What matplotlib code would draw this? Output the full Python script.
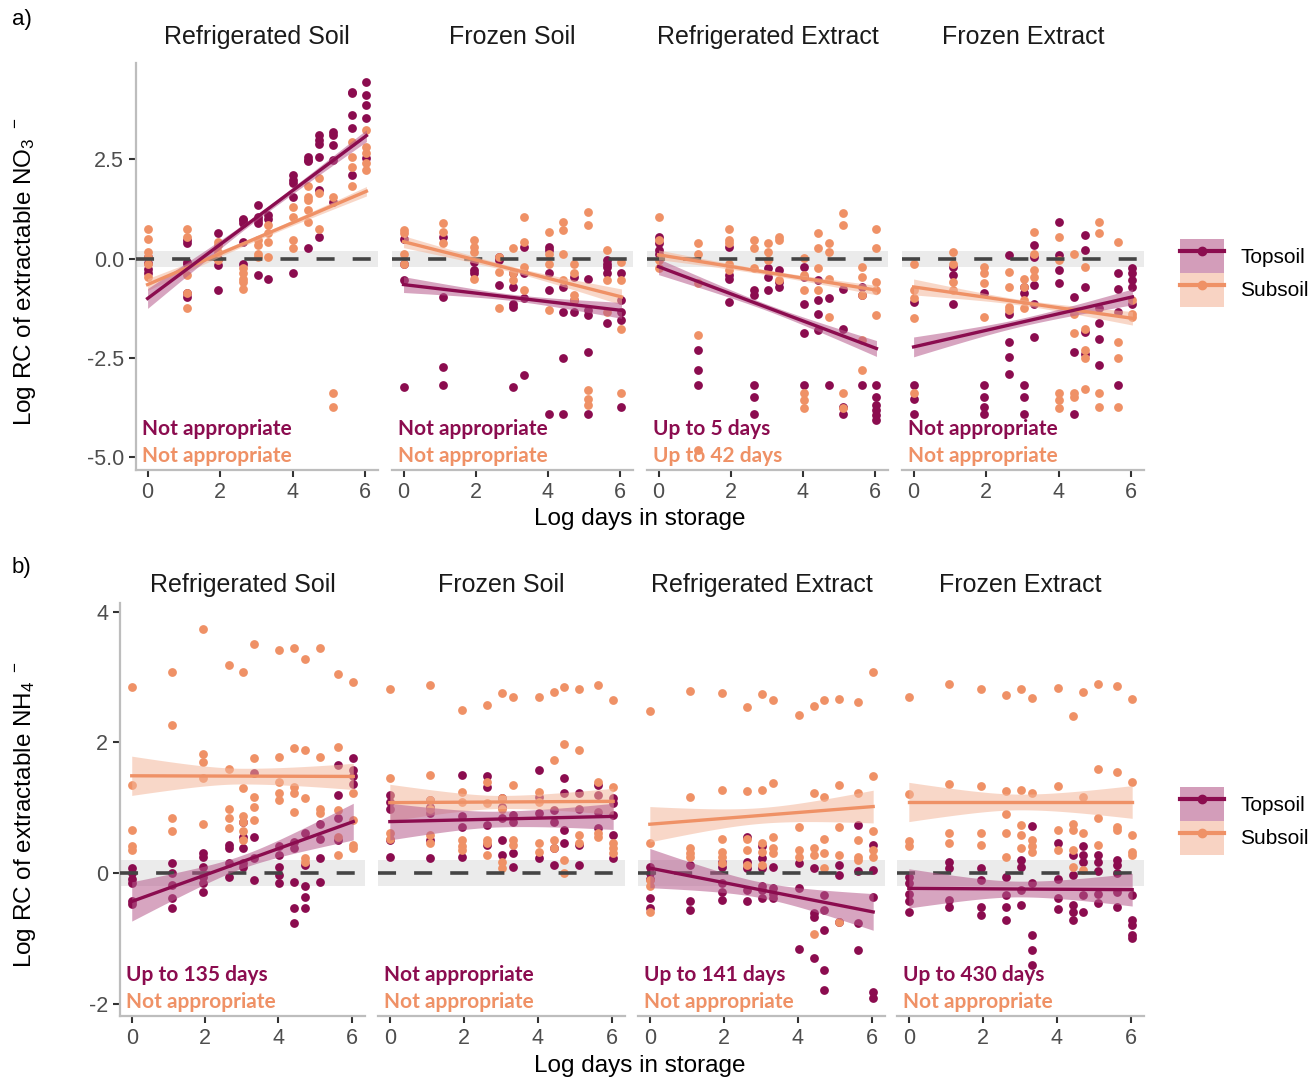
import matplotlib
matplotlib.use('Agg')
import matplotlib.pyplot as plt
import numpy as np
from matplotlib.patches import Patch
from matplotlib.lines import Line2D
from matplotlib.legend_handler import HandlerTuple

plt.rcParams['font.family'] = ['Liberation Sans', 'DejaVu Sans']
plt.rcParams['mathtext.default'] = 'regular'

# storage times (days); plotted on log scale
days = [1, 3, 7, 14, 21, 28, 56, 84, 112, 168, 280, 420]
panels = ['Refrigerated Soil', 'Frozen Soil', 'Refrigerated Extract', 'Frozen Extract']

# ---------------- a) nitrate ----------------
no3_top = [
    # Refrigerated Soil
    [[0.05, -0.1, -0.25, -0.35], [0.47, 0.4, -0.08, -0.12, -0.87, -0.96], [0.64, -0.79, -0.16, 0.0],
     [1.0, 0.97, 0.89, 0.43, -0.13], [1.35, 1.06, 0.97, 0.89, -0.41], [1.1, 1.0, -0.5],
     [2.1, 1.98, 1.9, 1.56, -0.37], [2.57, 2.49, 2.45, 0.26], [3.12, 3.0, 2.9, 2.57, 1.73, 0.55],
     [3.2, 3.12, 2.87, 2.49, 1.44], [4.2, 4.17, 3.62, 3.29, 2.1], [4.46, 4.13, 3.87, 3.54, 2.53]],
    # Frozen Soil
    [[0.51, -0.12, -0.54, -3.23], [0.55, -0.96, -2.72, -3.18], [-0.08, -0.29, -0.37],
     [0.05, -0.03, -0.66], [-0.37, -0.71, -1.13, -1.21, -3.23], [0.3, -0.37, -1.0, -2.93],
     [0.3, 0.22, -0.37, -0.79, -3.9], [-0.71, -1.34, -2.51, -3.9], [-0.45, -1.04, -1.34],
     [-0.5, -1.29, -1.42, -2.34, -3.9], [-0.03, -0.12, -0.2, -0.37, -1.63], [-0.37, -1.04, -1.34, -1.55, -3.73]],
    # Refrigerated Extract
    [[0.55, 0.39, 0.22, 0.13], [-2.3, -2.81, -3.18], [0.3, -0.41, -0.5, -1.08],
     [-0.79, -0.92, -3.18, -3.48, -3.9], [-0.24, -0.45, -0.79], [-0.29, -0.58, -0.71],
     [-0.2, -0.45, -1.13, -1.88, -3.18], [-0.54, -1.04, -1.38, -1.8], [-1.0, -3.18],
     [-0.75, -1.76, -3.9, -3.73], [-0.71, -0.92, -3.18], [-3.18, -3.48, -3.69, -3.82, -3.94, -4.07]],
    # Frozen Extract
    [[-1.08, -3.18, -3.52, -3.9], [-0.2, -0.41, -1.13], [-0.87, -3.18, -3.48, -3.73, -3.9],
     [0.09, -1.38, -2.09, -2.47, -2.89], [-0.71, -0.87, -3.18, -3.48, -3.9], [0.34, 0.05, -0.66, -1.13, -1.97],
     [0.93, 0.09, -0.29, -0.62], [-0.96, -2.34, -3.9], [0.6, 0.22, -0.71, -1.84, -2.39],
     [-1.25, -1.63, -2.01, -2.68], [-0.37, -0.75, -1.34, -3.18], [-0.24, -0.37, -0.54, -0.71, -1.13]],
]
no3_sub = [
    [[0.76, 0.51, 0.18, 0.05, -0.12, -0.45], [0.76, 0.55, -0.41, -0.87, -1.25], [0.43, 0.34, 0.18, -0.03],
     [-0.24, -0.37, -0.5, -0.58, -0.75], [0.47, 0.34, 0.13, 0.05], [0.85, 0.64, 0.43, 0.05],
     [1.31, 1.06, 0.47, 0.26], [1.82, 1.56, 1.48, 1.23, 0.93], [2.03, 1.65, 0.76],
     [1.56, -3.39, -3.73], [2.95, 2.57, 2.32, 1.82], [3.24, 2.82, 2.66, 2.4, 2.24]],
    [[0.72, 0.64, 0.13, -0.12], [0.89, 0.68, 0.39], [0.47, 0.3, 0.18, -0.5],
     [0.05, -0.33, -1.25], [0.26, -0.37, -0.54], [1.06, 0.43, -0.2, -0.79],
     [0.68, 0.13, -0.12, -1.29], [0.93, 0.72, 0.13, -0.54], [-0.12, -0.37, -0.92, -1.04],
     [1.18, 0.85, -3.31, -3.52, -3.69], [0.22, -0.54, -1.34], [-0.08, -0.54, -1.76, -3.39]],
    [[1.06, 0.47, -0.03, -0.24], [0.39, 0.13, -0.62, -1.92, -4.82], [0.76, 0.47, 0.39, -0.12, -0.29],
     [0.47, 0.26, -0.24], [0.39, 0.18, -0.03], [0.55, 0.47, -0.54],
     [0.01, -0.41, -0.79, -3.39, -3.56, -3.77], [0.64, 0.26, -0.24, -0.79], [0.39, 0.18, -0.5, -1.46],
     [1.14, 0.85, -3.39, -3.77], [-0.2, -0.45, -0.92, -2.05, -2.81], [0.76, 0.26, -0.58, -0.79, -1.42]],
    [[-0.12, -0.79, -1.0, -1.5, -3.39], [0.18, -0.12, -0.58, -0.79], [-0.2, -0.37, -0.62, -1.46],
     [-0.33, -0.71, -1.21, -1.29], [-0.5, -0.71, -1.04, -1.25], [0.68, 0.13, -0.29, -0.45],
     [0.55, -0.03, -3.39, -3.56, -3.77], [0.13, -1.38, -1.88, -3.39, -3.48], [-0.2, -1.76, -2.3, -2.51, -3.27],
     [0.93, 0.64, -3.39, -3.73], [0.43, -2.09, -2.51, -3.73], [-1.04, -1.38, -1.46]],
]
# fitted line: value at day 1 and day 420, CI half width at start / middle / end
no3_fit_top = [(-1.0, 3.1), (-0.65, -1.3), (-0.2, -2.26), (-2.22, -0.96)]
no3_fit_sub = [(-0.65, 1.7), (0.43, -0.96), (0.1, -0.79), (-0.71, -1.5)]
no3_ci_top = [(0.25, 0.07, 0.15), (0.2, 0.08, 0.2), (0.2, 0.08, 0.2), (0.25, 0.1, 0.2)]
no3_ci_sub = [(0.15, 0.06, 0.12), (0.15, 0.07, 0.2), (0.12, 0.06, 0.12), (0.2, 0.07, 0.17)]
no3_note_top = ['Not appropriate', 'Not appropriate', 'Up to 5 days', 'Not appropriate']
no3_note_sub = ['Not appropriate', 'Not appropriate', 'Up to 42 days', 'Not appropriate']

# ---------------- b) ammonium ----------------
nh4_top = [
    [[0.08, 0.0, -0.08, -0.15, -0.43, -0.47], [0.15, 0.0, -0.18, -0.38, -0.53], [0.31, 0.25, 0.1, -0.05, -0.15, -0.28],
     [0.43, 0.38, 0.15, -0.05], [0.79, 0.56, 0.38, 0.15, 0.1], [1.53, 0.56, 0.23, -0.1],
     [0.41, 0.28, 0.1, -0.03, -0.15], [0.48, 0.38, -0.13, -0.53, -0.76], [0.61, 0.13, -0.2, -0.36, -0.53],
     [0.76, 0.53, 0.23, -0.13], [1.65, 1.2, 0.84, 0.51], [1.76, 1.58, 1.48, 1.37]],
    [[1.2, 1.09, 0.99, 0.51, 0.25], [1.12, 1.02, 0.92, 0.51, 0.23], [1.5, 0.87, 0.71, 0.25],
     [1.48, 1.32, 0.74, 0.43], [1.15, 1.02, 0.84, 0.51, 0.28], [0.89, 0.79, 0.31, 0.1],
     [1.58, 1.17, 0.92, 0.23], [0.97, 0.79, 0.38, 0.13], [1.45, 1.22, 0.66, 0.46],
     [1.22, 0.99, 0.43, 0.13], [1.35, 1.2, 0.94, 0.69], [1.15, 1.07, 0.89, 0.59, 0.23]],
    [[0.1, 0.0, -0.08, -0.38, -0.53], [0.13, -0.43, -0.56], [0.18, 0.1, -0.15, -0.28, -0.41],
     [0.56, 0.18, 0.08, -0.25, -0.43], [0.41, 0.23, 0.08, -0.2, -0.25, -0.38], [0.1, -0.23, -0.31, -0.38],
     [0.15, -0.23, -1.15], [0.08, -0.61, -0.66, -1.3], [-0.33, -0.56, -0.87, -1.48, -1.78],
     [0.13, -0.03, -0.74], [0.74, 0.03, -0.76, -1.17], [0.43, 0.05, -0.36, -1.81, -1.91]],
    [[-0.05, -0.15, -0.31, -0.43, -0.59], [0.18, 0.08, -0.41, -0.51], [0.08, -0.1, -0.51, -0.64],
     [-0.05, -0.33, -0.52, -0.72], [0.2, 0.1, -0.25, -0.48], [0.72, -0.15, -0.94, -1.17, -1.4],
     [0.47, -0.08, -0.38, -0.55], [0.28, -0.03, -0.48, -0.59, -0.71], [0.41, 0.28, 0.18, -0.33, -0.59],
     [0.28, 0.18, 0.03, -0.31, -0.46], [0.2, 0.13, 0.0, -0.28, -0.51], [-0.33, -0.71, -0.79, -0.94, -0.99]],
]
nh4_sub = [
    [[2.85, 1.35, 0.66, 0.41, 0.36], [3.08, 2.26, 0.84, 0.64], [3.74, 1.83, 1.7, 1.45, 0.76],
     [3.18, 1.6, 0.99, 0.84, 0.69], [3.08, 1.3, 0.87, 0.79, 0.64, 0.51], [3.51, 1.76, 1.17, 1.02, 0.81],
     [3.41, 1.78, 1.4, 1.22, 1.12], [3.44, 1.91, 1.32, 1.22, 0.94], [3.28, 1.88, 1.15, 0.23, 0.18],
     [3.44, 1.78, 0.99, 0.92], [3.05, 1.93, 0.97, 0.56, 0.28], [2.93, 1.22, 0.81, 0.43, 0.38]],
    [[2.82, 1.45, 0.61, 0.53], [2.88, 1.5, 1.12, 0.99, 0.59, 0.46], [2.49, 1.25, 1.09, 0.51, 0.41, 0.36],
     [2.57, 1.4, 1.07, 0.51, 0.46, 0.28], [2.75, 1.15, 0.99, 0.18, 0.08], [2.7, 1.35, 0.51, 0.43],
     [2.7, 1.25, 1.09, 0.46, 0.33], [2.77, 1.73, 0.51, 0.38], [2.85, 1.98, 0.2, 0.0],
     [2.82, 1.88, 0.59, 0.46], [2.88, 1.4, 0.61, 0.56], [2.65, 1.32, 0.46, 0.38, 0.31]],
    [[2.48, 0.46, -0.1, -0.2, -0.59], [2.79, 1.17, 0.38, 0.31, 0.25], [2.75, 1.27, 0.52, 0.33, 0.25, 0.15],
     [2.54, 1.26, 0.53, 0.36, 0.13], [2.74, 1.28, 0.46, 0.33, 0.13], [2.65, 1.38, 0.56, 0.38, 0.31],
     [2.42, 0.7, 0.36, 0.25], [2.55, 1.22, 0.38, 0.28, -0.92], [2.65, 1.16, 0.52, 0.31, 0.08],
     [2.67, 1.35, 0.71, 0.28, -0.74], [2.61, 1.23, 0.51, 0.25, 0.2], [3.07, 1.48, 0.65, 0.36, 0.25]],
    [[2.7, 1.21, 0.5, 0.41], [2.89, 1.36, 0.61, 0.47], [2.81, 1.34, 0.62, 0.43],
     [2.73, 1.26, 0.9, 0.61, 0.25], [2.81, 1.28, 0.74, 0.59, 0.38], [2.68, 1.23, 0.51, 0.41, 0.33],
     [2.83, 1.34, 0.66, 0.36], [2.4, 0.76, 0.66, 0.36, 0.1], [2.77, 1.16, 0.61, 0.05],
     [2.89, 1.59, 0.84, 0.43], [2.86, 1.55, 0.71, 0.66], [2.66, 1.39, 0.59, 0.33, 0.28]],
]
nh4_fit_top = [(-0.43, 0.79), (0.79, 0.87), (0.08, -0.59), (-0.23, -0.25)]
nh4_fit_sub = [(1.49, 1.48), (1.08, 1.1), (0.75, 1.02), (1.09, 1.09)]
nh4_ci_top = [(0.3, 0.1, 0.28), (0.28, 0.12, 0.2), (0.3, 0.12, 0.28), (0.3, 0.12, 0.25)]
nh4_ci_sub = [(0.3, 0.12, 0.2), (0.28, 0.1, 0.2), (0.27, 0.12, 0.25), (0.3, 0.12, 0.25)]
nh4_note_top = ['Up to 135 days', 'Not appropriate', 'Up to 141 days', 'Up to 430 days']
nh4_note_sub = ['Not appropriate', 'Not appropriate', 'Not appropriate', 'Not appropriate']

purple = '#8B0C4F'
orange = '#EF9166'
purple_fill = '#B65C8D'
orange_fill = '#F4B79B'

W, H = 1311, 1080
fig = plt.figure(figsize=(W / 100, H / 100), dpi=100)

logx = np.log(days)


def draw_fit(ax, ends, ci, color, fill):
    xs = np.linspace(logx[0], logx[-1], 60)
    ys = ends[0] + (ends[1] - ends[0]) * (xs - xs[0]) / (xs[-1] - xs[0])
    xc = 0.5 * (xs[0] + xs[-1])
    half = 0.5 * (xs[-1] - xs[0])
    u = (xs - xc) / half
    hw_end = np.where(u < 0, ci[0], ci[2])
    hw = np.sqrt(ci[1] ** 2 + (hw_end ** 2 - ci[1] ** 2) * u ** 2)
    ax.fill_between(xs, ys - hw, ys + hw, color=fill, alpha=0.55, lw=0, zorder=4)
    ax.plot(xs, ys, color=color, lw=2.4, zorder=5)


def draw_row(boxes, top, sub, fit_top, fit_sub, ci_top, ci_sub, note_top, note_sub,
             ylim, yticks, ylabels, title_pad):
    axes = []
    for i, (l, r, b, t) in enumerate(boxes):
        ax = fig.add_axes([l / W, 1 - b / H, (r - l) / W, (b - t) / H])
        ax.axhspan(-0.2, 0.2, color='#EBEBEB', lw=0, zorder=0)
        for series, col in ((top[i], purple), (sub[i], orange)):
            xx = np.concatenate([[logx[k]] * len(v) for k, v in enumerate(series)])
            yy = np.concatenate([v for v in series])
            ax.scatter(xx, yy, s=40, color=col, lw=0, zorder=2)
        ax.axhline(0, color='#444444', lw=2.6, ls=(0, (5, 5)), zorder=3)
        draw_fit(ax, fit_sub[i], ci_sub[i], orange, orange_fill)
        draw_fit(ax, fit_top[i], ci_top[i], purple, purple_fill)
        ax.text(0.025, 0.1, note_top[i], transform=ax.transAxes, color=purple,
                family='Lato', weight='bold', fontsize=15, va='center', zorder=6)
        ax.text(0.025, 0.035, note_sub[i], transform=ax.transAxes, color=orange,
                family='Lato', weight='bold', fontsize=15, va='center', zorder=6)
        ax.set_xlim(-0.32, 6.36)
        ax.set_ylim(*ylim)
        ax.set_xticks([0, 2, 4, 6])
        ax.set_yticks(yticks)
        ax.set_yticklabels(ylabels)
        for s in ('top', 'right'):
            ax.spines[s].set_visible(False)
        for s in ('left', 'bottom'):
            ax.spines[s].set_color('#BDBDBD')
            ax.spines[s].set_linewidth(1.6)
        ax.tick_params(colors='#333333', labelcolor='#4D4D4D', labelsize=15.5, width=1.5, length=5)
        if i > 0:
            ax.spines['left'].set_visible(False)
            ax.tick_params(axis='y', left=False, labelleft=False)
        ax.set_title(panels[i], fontsize=18, pad=title_pad, color='#1A1A1A')
        axes.append(ax)
    return axes


boxes_a = [(136, 378, 470, 63), (392, 633, 470, 63), (647, 888, 470, 63), (902, 1144, 470, 63)]
boxes_b = [(120, 365, 1016, 603), (378, 625, 1016, 603), (638, 885, 1016, 603), (897, 1144, 1016, 603)]

draw_row(boxes_a, no3_top, no3_sub, no3_fit_top, no3_fit_sub, no3_ci_top, no3_ci_sub,
         no3_note_top, no3_note_sub, (-5.32, 4.93), [-5, -2.5, 0, 2.5],
         ['-5.0', '-2.5', '0.0', '2.5'], 14)
draw_row(boxes_b, nh4_top, nh4_sub, nh4_fit_top, nh4_fit_sub, nh4_ci_top, nh4_ci_sub,
         nh4_note_top, nh4_note_sub, (-2.18, 4.13), [-2, 0, 2, 4],
         ['-2', '0', '2', '4'], 8)

fig.text(640 / W, 1 - 519 / H, 'Log days in storage', ha='center', va='center', fontsize=17.5)
fig.text(640 / W, 1 - 1066 / H, 'Log days in storage', ha='center', va='center', fontsize=17.5)
fig.text(25 / W, 1 - 272 / H, 'Log RC of extractable NO$_3$$^{\\ -}$', rotation=90,
         ha='center', va='center', fontsize=17.5)
fig.text(25 / W, 1 - 815 / H, 'Log RC of extractable NH$_4$$^{\\ -}$', rotation=90,
         ha='center', va='center', fontsize=17.5)
fig.text(12 / W, 1 - 20 / H, 'a)', ha='left', va='center', fontsize=16)
fig.text(12 / W, 1 - 567 / H, 'b)', ha='left', va='center', fontsize=16)

handles = [
    (Patch(facecolor=purple_fill, alpha=0.6, lw=0), Line2D([], [], color=purple, lw=3, marker='o', ms=6)),
    (Patch(facecolor=orange_fill, alpha=0.6, lw=0), Line2D([], [], color=orange, lw=3, marker='o', ms=6)),
]
for yc in (273, 821):
    fig.legend(handles, ['Topsoil', 'Subsoil'], loc='center left',
               bbox_to_anchor=(1180 / W, 1 - yc / H), frameon=False, fontsize=15,
               handler_map={tuple: HandlerTuple(ndivide=1, pad=0)},
               handlelength=2.1, handleheight=2.1, labelspacing=0.0,
               handletextpad=0.8, borderpad=0, borderaxespad=0)

fig.savefig('out.png', dpi=100)
